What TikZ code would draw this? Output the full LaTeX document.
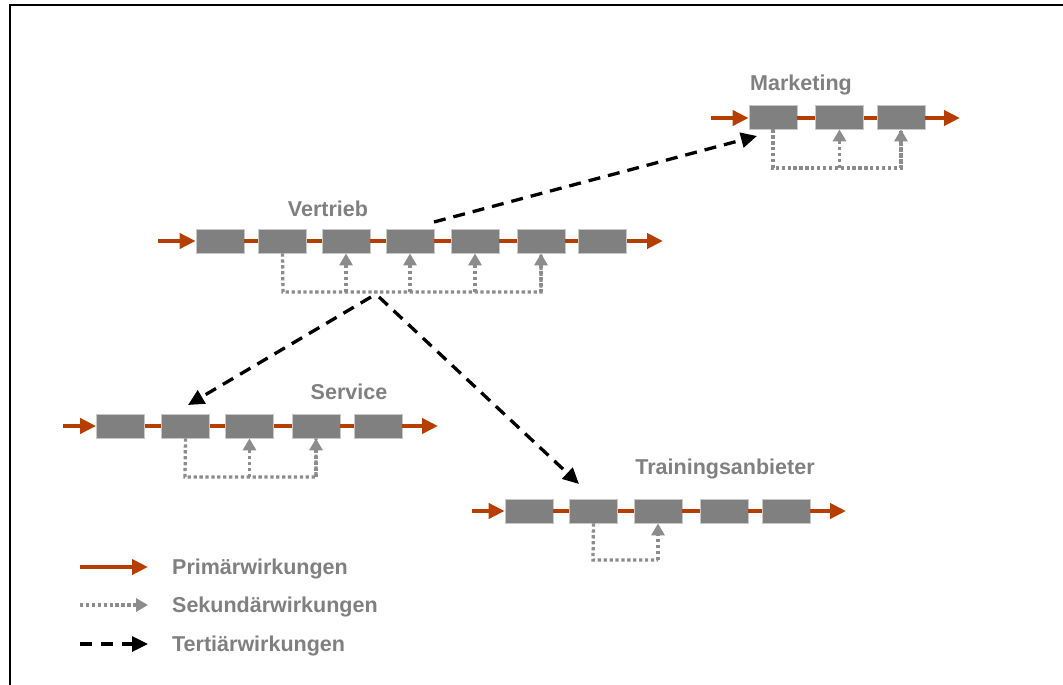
\documentclass[tikz,border=0pt]{standalone}
\usepackage{fontspec}
\setmainfont{Liberation Sans}
\usetikzlibrary{arrows.meta}
\definecolor{prim}{RGB}{182,62,0}
\definecolor{boxgray}{RGB}{128,128,128}
\definecolor{boxedge}{RGB}{200,200,200}
\definecolor{sekgray}{RGB}{140,140,140}
\begin{document}
\begin{tikzpicture}[x=1pt,y=-1pt,
  stepbox/.style={rectangle,fill=boxgray,draw=boxedge,line width=0.8pt,minimum width=48pt,minimum height=24pt,inner sep=0pt},
  primline/.style={draw=prim,line width=4.8pt},
  primarrow/.style={primline,-{Triangle[length=16pt,width=15pt]}},
  sekline/.style={draw=sekgray,line width=3.3pt,dash pattern=on 3.3pt off 2.6pt},
  sekarrow/.style={sekline,-{Triangle[length=12pt,width=13pt]}},
  terarrow/.style={draw=black,line width=3.3pt,dash pattern=on 12pt off 8pt,-{Triangle[length=16pt,width=15pt]}},
  title/.style={text=boxgray,font=\bfseries\fontsize{21.5}{24}\selectfont,inner sep=0pt},
  legtext/.style={text=boxgray,font=\bfseries\fontsize{21.5}{24}\selectfont,inner sep=0pt,anchor=west}
]
\useasboundingbox (0,0) rectangle (1063,685);
\draw[line width=2pt] (9.5,685) -- (9.5,5.5) -- (1063,5.5);

% ---------- Marketing ----------
\node[title] (mt) at (801,85) {Marketing};
\node[stepbox] (m1) at (773,117) {};
\node[stepbox] (m2) at (839.5,117) {};
\node[stepbox] (m3) at (901,117) {};
\coordinate (min) at (711,118);
\coordinate (mout) at (960,118);
\draw[primarrow] (min) -- (m1.west |- min);
\draw[primline] (m1.east |- min) -- (m2.west |- min);
\draw[primline] (m2.east |- min) -- (m3.west |- min);
\draw[primarrow] (m3.east |- min) -- (mout);
\coordinate (mb) at (773,168);
\draw[sekline] (m1.south) -- (mb) -| (m3.south);
\draw[sekarrow] (m2.south |- mb) -- (m2.south);
\draw[sekarrow] (m3.south |- mb) -- (m3.south);

% ---------- Vertrieb ----------
\node[title] (vt) at (328,209) {Vertrieb};
\node[stepbox] (v1) at (220,241) {};
\node[stepbox] (v2) at (282.5,241) {};
\node[stepbox] (v3) at (346,241) {};
\node[stepbox] (v4) at (410,241) {};
\node[stepbox] (v5) at (475,241) {};
\node[stepbox] (v6) at (541,241) {};
\node[stepbox] (v7) at (602.5,241) {};
\coordinate (vin) at (158,241);
\coordinate (vout) at (663,241);
\draw[primarrow] (vin) -- (v1.west);
\draw[primline] (v1.east) -- (v2.west);
\draw[primline] (v2.east) -- (v3.west);
\draw[primline] (v3.east) -- (v4.west);
\draw[primline] (v4.east) -- (v5.west);
\draw[primline] (v5.east) -- (v6.west);
\draw[primline] (v6.east) -- (v7.west);
\draw[primarrow] (v7.east) -- (vout);
\coordinate (vb) at (283,292);
\draw[sekline] (v2.south) -- (vb) -| (v6.south);
\draw[sekarrow] (v3.south |- vb) -- (v3.south);
\draw[sekarrow] (v4.south |- vb) -- (v4.south);
\draw[sekarrow] (v5.south |- vb) -- (v5.south);
\draw[sekarrow] (v6.south |- vb) -- (v6.south);

% ---------- Service ----------
\node[title] (st) at (349,392) {Service};
\node[stepbox] (s1) at (120.5,426) {};
\node[stepbox] (s2) at (185.5,426) {};
\node[stepbox] (s3) at (249.5,426) {};
\node[stepbox] (s4) at (316,426) {};
\node[stepbox] (s5) at (378,426) {};
\coordinate (sin) at (63,426);
\coordinate (sout) at (438,426);
\draw[primarrow] (sin) -- (s1.west);
\draw[primline] (s1.east) -- (s2.west);
\draw[primline] (s2.east) -- (s3.west);
\draw[primline] (s3.east) -- (s4.west);
\draw[primline] (s4.east) -- (s5.west);
\draw[primarrow] (s5.east) -- (sout);
\coordinate (sb) at (185,477);
\draw[sekline] (s2.south) -- (sb) -| (s4.south);
\draw[sekarrow] (s3.south |- sb) -- (s3.south);
\draw[sekarrow] (s4.south |- sb) -- (s4.south);

% ---------- Trainingsanbieter ----------
\node[title] (tt) at (725,469) {Trainingsanbieter};
\node[stepbox] (t1) at (529,511) {};
\node[stepbox] (t2) at (593.5,511) {};
\node[stepbox] (t3) at (658,511) {};
\node[stepbox] (t4) at (724,511) {};
\node[stepbox] (t5) at (786,511) {};
\coordinate (tin) at (472,511);
\coordinate (tout) at (846,511);
\draw[primarrow] (tin) -- (t1.west);
\draw[primline] (t1.east) -- (t2.west);
\draw[primline] (t2.east) -- (t3.west);
\draw[primline] (t3.east) -- (t4.west);
\draw[primline] (t4.east) -- (t5.west);
\draw[primarrow] (t5.east) -- (tout);
\coordinate (tb) at (593,560);
\draw[sekline] (t2.south) -- (tb) -- (t3.south |- tb);
\draw[sekarrow] (t3.south |- tb) -- (t3.south);

% ---------- Tertiary effects ----------
\coordinate (vm) at (434,222);
\coordinate (mtip) at (757,136);
\draw[terarrow] (vm) -- (mtip);
\coordinate (vsl) at (371,297);
\coordinate (stip) at (188,405);
\draw[terarrow] (vsl) -- (stip);
\coordinate (vsr) at (379,297);
\coordinate (ttip) at (579,484);
\draw[terarrow] (vsr) -- (ttip);

% ---------- Legend ----------
\coordinate (l1a) at (80,567);
\coordinate (l1b) at (148,567);
\draw[primarrow] (l1a) -- (l1b);
\node[legtext] (lt1) at (172,569) {Primärwirkungen};
\coordinate (l2a) at (80,605);
\coordinate (l2b) at (148,605);
\draw[sekarrow] (l2a) -- (l2b);
\node[legtext] (lt2) at (172,607) {Sekundärwirkungen};
\coordinate (l3a) at (80,644);
\coordinate (l3b) at (148,644);
\draw[terarrow,dash pattern=on 12pt off 9pt] (l3a) -- (l3b);
\node[legtext] (lt3) at (172,646) {Tertiärwirkungen};
\end{tikzpicture}
\end{document}
